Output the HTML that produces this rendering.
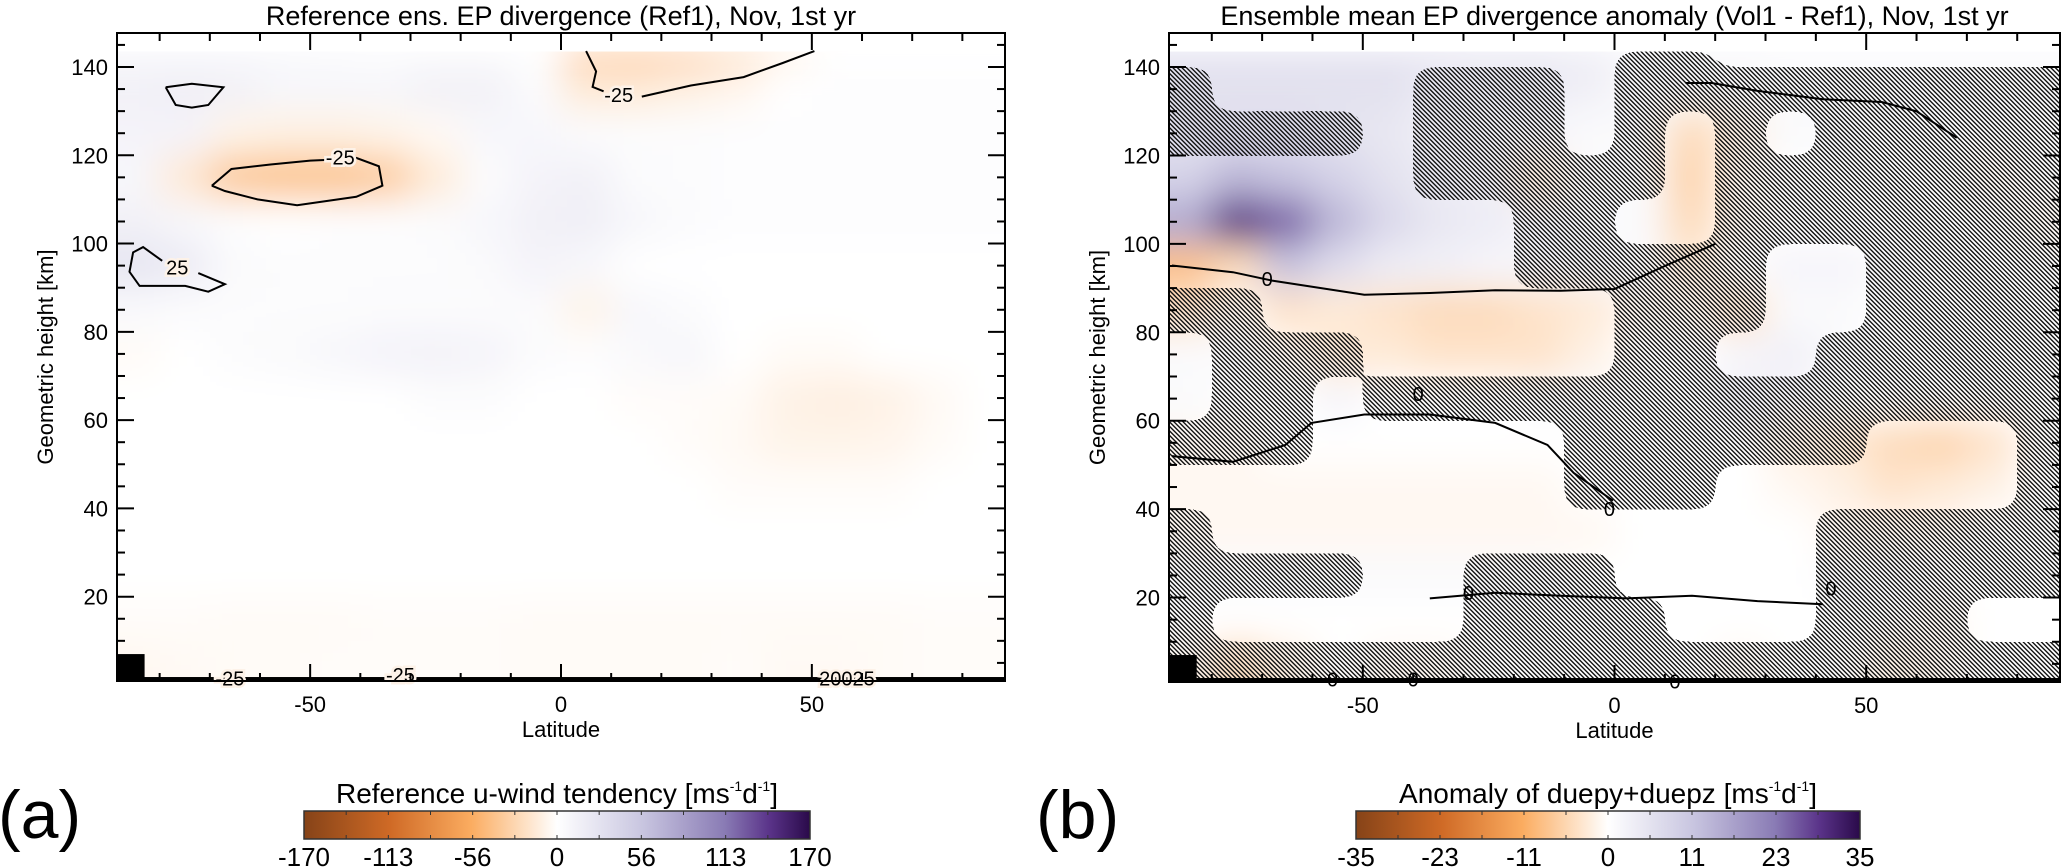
<!DOCTYPE html>
<html><head><meta charset="utf-8"><style>
html,body{margin:0;padding:0;background:#fff;}
svg{display:block;font-family:"Liberation Sans",sans-serif;}
</style></head><body>
<svg id="fig" width="2067" height="867" viewBox="0 0 2067 867">
<defs>
<pattern id="hatch" width="3.2" height="3.2" patternUnits="userSpaceOnUse" patternTransform="rotate(-45)">
<rect x="0" y="0" width="1.4" height="3.2" fill="#111"/>
</pattern>
<filter id="blur" x="-10%" y="-10%" width="120%" height="120%"><feGaussianBlur stdDeviation="18"/></filter>
<filter id="round" x="-5%" y="-5%" width="110%" height="110%">
<feGaussianBlur stdDeviation="11"/>
<feComponentTransfer><feFuncA type="discrete" tableValues="0 1"/></feComponentTransfer>
</filter>
<linearGradient id="cmap" x1="0" x2="1" y1="0" y2="0">
<stop offset="0" stop-color="#864318"/><stop offset="0.17" stop-color="#cf6a26"/><stop offset="0.33" stop-color="#fbac60"/>
<stop offset="0.5" stop-color="#ffffff"/><stop offset="0.67" stop-color="#c8c5e0"/><stop offset="0.83" stop-color="#8a7cb5"/>
<stop offset="0.92" stop-color="#5a3389"/><stop offset="1" stop-color="#2a0a4a"/>
</linearGradient>
<clipPath id="clipA"><rect x="117" y="33" width="888" height="648"/></clipPath>
<clipPath id="clipB"><rect x="1169" y="33" width="891" height="650"/></clipPath>
<mask id="maskHatch" maskUnits="userSpaceOnUse" x="0" y="0" width="2067" height="867"><g id="maskGroup" filter="url(#round)"></g></mask>
</defs>
</svg>
<script>
// ---- data ----
const latEdges = [-90,-80,-70,-60,-50,-40,-30,-20,-10,0,10,20,30,40,50,60,70,80,90];
const rowTops = [150,140,130,120,110,100,90,80,70,60,50,40,30,20,10];
const xTicks = [-50,0,50];
const yTicks = [20,40,60,80,100,120,140];
const cbarLabelsA = ["-170","-113","-56","0","56","113","170"];
const cbarLabelsB = ["-35","-23","-11","0","11","23","35"];
// panel a field (ms-1d-1), rows top->bottom
const fieldA = [
[8,8,8,8,6,4,3,3,0,-45,-50,-45,-30,-12,0,0,0,0],
[14,16,14,8,8,8,14,14,4,-14,-14,-10,-6,0,2,2,2,2],
[12,12,-8,-10,-10,-8,-4,8,8,4,3,3,2,2,2,2,2,2],
[8,-15,-38,-42,-42,-36,-14,3,12,14,4,3,2,2,2,2,2,2],
[14,8,2,0,2,2,4,8,14,16,8,4,2,2,2,2,2,2],
[26,20,5,3,3,3,3,5,12,8,0,0,0,0,0,0,0,0],
[6,4,3,3,3,4,4,4,4,-8,8,4,0,0,0,0,0,0],
[-3,0,3,5,8,12,13,11,4,2,6,9,0,-3,-3,0,0,0],
[0,0,0,0,0,0,3,3,0,0,-2,-2,-3,-9,-11,-9,-4,0],
[0,0,0,0,0,0,0,0,0,0,0,-2,-4,-8,-8,-7,-3,0],
[0,0,0,0,0,0,0,0,0,0,0,0,-2,-2,-2,-2,0,0],
[0,0,0,0,0,0,0,0,0,0,0,0,0,0,0,0,0,0],
[0,0,0,0,0,0,0,0,0,0,0,0,0,0,0,0,0,0],
[-2,-2,-3,-3,-3,-2,-2,-2,-3,-3,-3,-3,-3,-3,-3,-3,-2,-2],
[-5,-4,-3,-3,-2,-2,-2,-2,-3,-3,-3,-3,-2,-4,-4,-3,-2,-2]
];
// panel b anomaly field
const fieldB = [
[7,7,7,7,7,7,6,6,5,2,2,2,1,1,1,1,1,1],
[6,6,6,6,6,4,4,4,3,1,1,1,1,1,1,1,1,1],
[6,7,7,6,5,3,2,2,1,1,-5,-2,1,1,0,0,0,0],
[9,14,12,9,6,4,3,-3,1,1,-6,-1,0,0,0,0,-1,0],
[16,30,25,14,8,5,4,2,1,1,-5,-1,0,0,0,0,0,-1],
[-9,-5,12,7,4,3,2,2,2,1,-3,0,2,2,1,0,0,0],
[-4,-1,-4,-3,-4,-5,-5,-4,-3,-1,-1,-4,1,1,0,0,0,0],
[1,1,-1,-3,-3,-4,-4,-4,-2,0,0,2,3,1,0,0,0,0],
[1,0,0,2,0,0,0,1,1,0,0,3,2,0,0,0,0,0],
[-1,-1,0,0,0,0,0,0,0,0,0,0,-2,-3,-5,-6,-4,0],
[-1,-1,-1,-1,-1,-1,-1,-1,0,0,0,0,-1,-2,-4,-3,-2,0],
[-1,-1,-1,-1,-1,-1,-1,-1,-1,0,0,0,0,-1,-1,-1,0,0],
[1,1,1,1,1,1,1,1,0,0,0,0,0,1,1,0,0,0],
[0,0,0,0,0,0,0,0,0,0,0,0,0,0,0,-1,0,0],
[-1,-5,-2,0,-1,-1,0,0,0,0,0,-1,0,0,-2,-1,0,0]
];
// significance hatch mask for panel b
const maskB = [
[0,0,0,0,0,0,0,0,0,1,1,0,0,0,0,0,0,0],
[1,0,0,0,0,1,1,1,0,1,1,1,1,1,1,1,1,1],
[1,1,1,1,0,1,1,1,0,1,0,1,0,1,1,1,1,1],
[0,0,0,0,0,1,1,1,1,1,0,1,1,1,1,1,1,1],
[0,0,0,0,0,0,0,1,1,0,0,1,1,1,1,1,1,1],
[0,0,0,0,0,0,0,1,1,1,1,1,0,0,1,1,1,1],
[1,1,0,0,0,0,0,0,0,1,1,1,0,0,1,1,1,1],
[0,1,1,1,0,0,0,0,0,1,1,0,0,1,1,1,1,1],
[0,1,1,0,1,1,1,1,1,1,1,1,1,1,1,1,1,1],
[1,1,1,0,0,0,0,0,1,1,1,1,1,1,0,0,0,1],
[0,0,0,0,0,0,0,0,1,1,1,0,0,0,0,0,0,1],
[1,0,0,0,0,0,0,0,0,0,0,0,0,1,1,1,1,1],
[1,1,1,1,0,0,1,1,1,0,0,0,0,1,1,1,1,1],
[1,0,0,0,0,0,1,1,1,1,0,0,0,1,1,1,0,0],
[1,1,1,1,1,1,1,1,1,1,1,1,1,1,1,1,1,1]
];
// contours panel a: [lat, height]
const contA1Lat = [-69.6,-65.7,-57.9,-50.0,-46,-40.8,-36.3,-35.6,-40.8,-52.6,-60.5,-67.0,-69.6];
const contA1H   = [113.1,116.9,117.9,118.8,119.0,119.4,117.5,113.1,110.6,108.7,110.0,111.9,113.1];
const contA2Lat = [5.0,7.0,6.3,8.5];
const contA2H   = [143.6,139.0,135.5,134.5];
const contA3Lat = [16.1,25.9,36.4,44.2,50.5];
const contA3H   = [133.3,135.8,137.7,140.9,143.6];
const contA4Lat = [-78.8,-73.6,-67.3,-70.3,-73.6,-76.8,-78.8];
const contA4H   = [135.4,136.2,135.4,131.4,130.8,131.4,135.4];
const contA5Lat = [-79.5,-83.3,-85.3,-86.0,-84.0,-74.9,-70.3,-67.0,-72.3];
const contA5H   = [96.1,99.2,98.0,93.6,90.4,90.4,89.1,90.8,93.3];
const labelsA = [["-25",-44,119.5],["-25",11.5,133.7],["25",-76.5,94.6],["-25",-66,1.5],["-25",-32,2.3],["20025",57,1.5]];
// contours panel b
const contB1Lat = [-87.9,-75.8,-68.0,-49.7,-36.7,-23.7,-10.7,0,10,20];
const contB1H   = [95.1,93.6,91.7,88.5,88.9,89.5,89.4,89.8,95,100];
const contB2Lat = [14.1,19.3,28.4,41.4,53.1,60,68];
const contB2H   = [136.4,136.4,134.6,132.7,132.1,130,124];
const contB3Lat = [-36.7,-23.7,-10.7,2.3,15.4,28.4,41.4];
const contB3H   = [19.8,21.1,20.4,19.8,20.4,19.2,18.5];
const contB4Lat = [-87.9,-75.8,-65.4,-60.2,-49.7,-36.7,-23.7,-13.3,-8.1,-0.3];
const contB4H   = [52,50.7,54.5,59.5,61.4,61.4,59.5,54.5,48.2,41.9];
const labelsB = [["0",-69,92],["0",-39,66],["0",-1,40],["0",-29,21],["0",12,1],["0",43,22],["0",-56,1.5],["0",-40,1.5]];

// ---- drawing ----
const NS="http://www.w3.org/2000/svg";
const svg=document.getElementById('fig');
function mk(tag,attrs,parent,text){const e=document.createElementNS(NS,tag);for(const k in attrs)e.setAttribute(k,attrs[k]);if(text!==undefined)e.textContent=text;(parent||svg).appendChild(e);return e;}
const stops=[[0,[0x86,0x43,0x18]],[0.17,[0xcf,0x6a,0x26]],[0.33,[0xfb,0xac,0x60]],[0.5,[255,255,255]],[0.67,[0xc8,0xc5,0xe0]],[0.83,[0x8a,0x7c,0xb5]],[0.92,[0x5a,0x33,0x89]],[1,[0x2a,0x0a,0x4a]]];
function cmap(t){t=Math.max(0,Math.min(1,t));for(let i=1;i<stops.length;i++){if(t<=stops[i][0]){const a=stops[i-1],b=stops[i];const f=(t-a[0])/(b[0]-a[0]);const c=a[1].map((v,j)=>Math.round(v+(b[1][j]-v)*f));return `rgb(${c[0]},${c[1]},${c[2]})`;}}return 'rgb(42,10,74)';}

function panel(P){
  const g=mk('g',{},svg);
  
  
  const xs=v=>P.x0+(v-(-88.5))/(177)*(P.x1-P.x0);
  const ys=v=>P.y1-(v-0.9)/(147.7-0.9)*(P.y1-P.y0);
  const hm=mk('g',{'clip-path':`url(#${P.clip})`},g);
  
  
  const bl=mk('g',{filter:'url(#blur)'},hm);
  const topH=143.5;
  for(let r=0;r<P.field.length;r++){for(let c=0;c<P.field[r].length;c++){
    let la0=latEdges[c],la1=latEdges[c+1];if(c==0)la0-=15;if(c==latEdges.length-2)la1+=15;
    let h1=rowTops[r],h0=rowTops[r]-10;if(r==0)h1=topH;if(r==P.field.length-1)h0=-8;
    const cell=mk('rect',{x:xs(la0),y:ys(h1),width:xs(la1)-xs(la0)+0.5,height:ys(h0)-ys(h1)+0.5,fill:cmap(0.5+P.field[r][c]/(2*P.vmax))},bl);
    
    
  }}
  mk('rect',{x:P.x0,y:P.y0,width:P.x1-P.x0,height:ys(topH)-P.y0,fill:'#fff'},hm);
  if(P.mask){
    const mg=document.getElementById('maskGroup');
    for(let r=0;r<P.mask.length;r++){for(let c=0;c<P.mask[r].length;c++){if(!P.mask[r][c])continue;
      let la0=latEdges[c],la1=latEdges[c+1];if(c==0)la0-=10;if(c==latEdges.length-2)la1+=10;
      let h1=rowTops[r],h0=rowTops[r]-10;if(r==0)h1=topH;if(r==P.mask.length-1)h0=-10;
      const hc=mk('rect',{x:xs(la0),y:ys(h1),width:xs(la1)-xs(la0)+0.3,height:ys(h0)-ys(h1)+0.3,fill:'#fff'},mg);
      
      
    }}
    const hg=mk('rect',{x:P.x0,y:ys(topH),width:P.x1-P.x0,height:P.y1-ys(topH),fill:'url(#hatch)',mask:'url(#maskHatch)'},hm);
    
    
  }
  const cg=mk('g',{'clip-path':`url(#${P.clip})`,fill:'none',stroke:'#000','stroke-width':2},g);
  
  
  P.conts.forEach(([la,hh])=>{const d=la.map((v,i)=>(i?'L':'M')+xs(v).toFixed(1)+' '+ys(hh[i]).toFixed(1)).join(' ');
    const p=mk('path',{d:d},cg);});
  const bb=mk('rect',{x:xs(-88.5),y:ys(7),width:xs(-83)-xs(-88.5),height:ys(0.9)-ys(7),fill:'#000'},g);
  
  
  const bl2=mk('rect',{x:P.x0,y:ys(1.8),width:P.x1-P.x0,height:ys(0.9)-ys(1.8),fill:'#000'},g);
  
  
  P.labels.forEach(([t,la,hh])=>{const tx=mk('text',{x:xs(la),y:ys(hh)+7,'font-size':20,'text-anchor':'middle',fill:'#000',stroke:P.mask?'none':'#fdf2e8','stroke-width':P.mask?0:5,'paint-order':'stroke'},g,t);
    });
  const fr=mk('rect',{x:P.x0,y:P.y0,width:P.x1-P.x0,height:P.y1-P.y0,fill:'none',stroke:'#000','stroke-width':2},g);
  
  
  const tg=mk('g',{stroke:'#000','stroke-width':2},g);
  
  
  for(let v=-80;v<=80;v+=10){const L=(v%50==0)?17:8;const x=xs(v);
    mk('line',{x1:x,x2:x,y1:P.y1,y2:P.y1-L},tg);mk('line',{x1:x,x2:x,y1:P.y0,y2:P.y0+L},tg);}
  for(let v=5;v<=145;v+=5){const L=(v%20==0)?17:8;const y=ys(v);
    mk('line',{x1:P.x0,x2:P.x0+L,y1:y,y2:y},tg);mk('line',{x1:P.x1,x2:P.x1-L,y1:y,y2:y},tg);}
  xTicks.forEach(v=>{const t=mk('text',{x:xs(v),y:P.y1+31,'font-size':22,'text-anchor':'middle'},g,String(v));
    });
  yTicks.forEach(v=>{const t=mk('text',{x:P.x0-9,y:ys(v)+8,'font-size':22,'text-anchor':'end'},g,String(v));
    });
  const xt=mk('text',{x:(P.x0+P.x1)/2,y:P.y1+56,'font-size':22,'text-anchor':'middle'},g,'Latitude');
  
  const yt=mk('text',{x:0,y:0,'font-size':22,'text-anchor':'middle',transform:`translate(${P.x0-64},${(P.y0+P.y1)/2}) rotate(-90)`},g,'Geometric height [km]');
  
  const tt=mk('text',{x:(P.x0+P.x1)/2,y:25,'font-size':27,'text-anchor':'middle'},g,P.title);
  
  const cb=mk('g',{},g);
  
  
  const ct=mk('text',{x:(P.cb0+P.cb1)/2,y:803,'font-size':28,'text-anchor':'middle'},cb);
  
  mk('tspan',{},ct,P.cbTitle+' [ms');mk('tspan',{'font-size':14,dy:-12},ct,'-1');mk('tspan',{dy:12},ct,'d');mk('tspan',{'font-size':14,dy:-12},ct,'-1');mk('tspan',{dy:12},ct,']');
  const bar=mk('rect',{x:P.cb0,y:811,width:P.cb1-P.cb0,height:28,fill:'url(#cmap)',stroke:'#333','stroke-width':1.5},cb);
  
  for(let i=0;i<=12;i++){const x=P.cb0+i*(P.cb1-P.cb0)/12;mk('line',{x1:x,x2:x,y1:811,y2:815,stroke:'#333','stroke-width':1},cb);mk('line',{x1:x,x2:x,y1:835,y2:839,stroke:'#333','stroke-width':1},cb);}
  P.cbLabels.forEach((t,i)=>{const x=P.cb0+i*(P.cb1-P.cb0)/6;const l=mk('text',{x:x,y:866,'font-size':26,'text-anchor':'middle'},cb,t);
    });
  const pl=mk('text',{x:P.lblX,y:838,'font-size':68},g,P.panelLabel);
  
}
panel({name:'panel-a',x0:117,x1:1005,y0:33,y1:681,clip:'clipA',field:fieldA,vmax:170,mask:null,
  conts:[[contA1Lat,contA1H],[contA2Lat,contA2H],[contA3Lat,contA3H],[contA4Lat,contA4H],[contA5Lat,contA5H]],labels:labelsA,
  title:'Reference ens. EP divergence (Ref1), Nov, 1st yr',cbTitle:'Reference u-wind tendency',cb0:304,cb1:810,cbLabels:cbarLabelsA,panelLabel:'(a)',lblX:-2});
panel({name:'panel-b',x0:1169,x1:2060,y0:33,y1:682,clip:'clipB',field:fieldB,vmax:35,mask:maskB,
  conts:[[contB1Lat,contB1H],[contB2Lat,contB2H],[contB3Lat,contB3H],[contB4Lat,contB4H]],labels:labelsB,
  title:'Ensemble mean EP divergence anomaly (Vol1 - Ref1), Nov, 1st yr',cbTitle:'Anomaly of duepy+duepz',cb0:1356,cb1:1860,cbLabels:cbarLabelsB,panelLabel:'(b)',lblX:1036});
</script>
</body></html>
